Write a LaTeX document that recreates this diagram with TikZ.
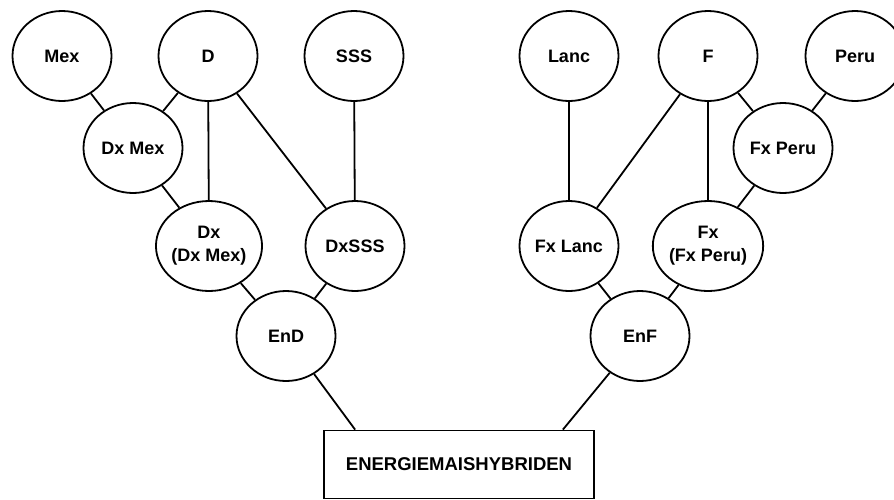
\documentclass[tikz,border=0pt]{standalone}
\usepackage{fontspec}
\setmainfont{Liberation Sans}
\usetikzlibrary{
  shapes.geometric,
  positioning,
}
\tikzset{
  cross/.style={draw,ellipse,line width=1.8pt,minimum width=99,minimum height=90,inner sep=0,align=center,font=\fontsize{18}{23}\selectfont\bfseries},
  link/.style={line width=1.8pt},
}

\begin{document}
\begin{tikzpicture}[x=1pt,y=-1pt]
        \clip (0,0) rectangle (894,499);
        \fill[white] (0,0) rectangle (894,499);

        % Dent-Seite
        \node[cross] (mex)   at (62,56)   {Mex};
        \node[cross] (d)     at (208,56)  {D};
        \node[cross] (sss)   at (354,56)  {SSS};
        \node[cross] (dmex)  at (133,148) {Dx Mex};
        \node[cross] (ddmex) at (209,246) {Dx\\(Dx Mex)};
        \node[cross] (dsss)  at (355,246) {DxSSS};
        \node[cross] (en-d)  at (286,336) {EnD};

        % Flint-Seite
        \node[cross] (lanc)   at (569,56)  {Lanc};
        \node[cross] (f)      at (708,56)  {F};
        \node[cross] (peru)   at (855,56)  {Peru};
        \node[cross] (fperu)  at (783,148) {Fx Peru};
        \node[cross] (flanc)  at (569,246) {Fx Lanc};
        \node[cross] (ffperu) at (708,246) {Fx\\(Fx Peru)};
        \node[cross] (en-f)   at (640,336) {EnF};

        \node[draw,rectangle,line width=1.8pt,minimum width=270,minimum height=68,font=\fontsize{18.5}{22}\selectfont\bfseries] (hyb) at (459,464.5) {ENERGIEMAISHYBRIDEN};

        \draw[link] (mex) -- (dmex);
        \draw[link] (d) -- (dmex);
        \draw[link] (d) -- (ddmex);
        \draw[link] (dmex) -- (ddmex);
        \draw[link] (d) -- (dsss);
        \draw[link] (sss) -- (dsss);
        \draw[link] (ddmex) -- (en-d);
        \draw[link] (dsss) -- (en-d);

        \draw[link] (lanc) -- (flanc);
        \draw[link] (f) -- (flanc);
        \draw[link] (f) -- (ffperu);
        \draw[link] (f) -- (fperu);
        \draw[link] (peru) -- (fperu);
        \draw[link] (fperu) -- (ffperu);
        \draw[link] (flanc) -- (en-f);
        \draw[link] (ffperu) -- (en-f);

        \draw[link] (en-d) -- ([xshift=32]hyb.north west);
        \draw[link] (en-f) -- ([xshift=-32]hyb.north east);
    \end{tikzpicture}
\end{document}
